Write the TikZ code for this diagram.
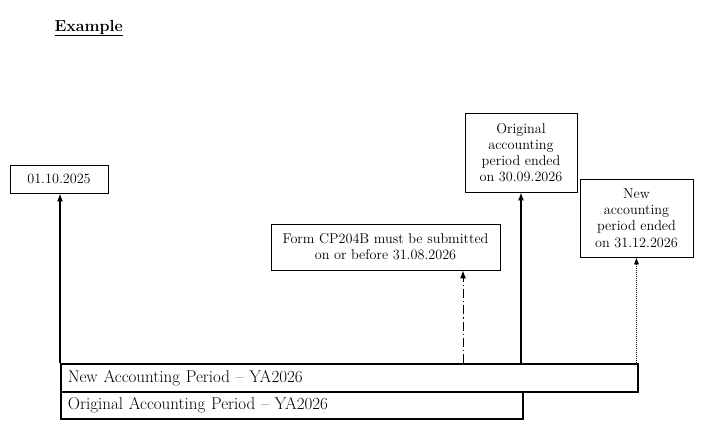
\documentclass[tikz,border=0pt]{standalone}
\usetikzlibrary{arrows.meta,calc}

\tikzset{
  datebox/.style={draw,line width=0.8pt,align=center,inner sep=1pt,
    font=\fontsize{14.2}{16.2}\selectfont},
  periodbar/.style={draw,line width=1.6pt,anchor=north west,align=left,
    inner xsep=7pt,inner ysep=0pt,font=\fontsize{17}{19}\selectfont},
  uparrow/.style={-{Latex[length=8pt,width=6pt]},line width=1.3pt},
}

\begin{document}
\begin{tikzpicture}[x=1pt,y=-1pt]

\useasboundingbox (0,0) rectangle (712,434);

\node[anchor=west,font=\fontsize{16}{18}\selectfont\bfseries] (title) at (51,28) {\underline{Example}};

% date boxes
\node[datebox,minimum width=98pt,minimum height=28pt] (start) at (59,179) {01.10.2025};
\node[datebox,minimum width=229pt,minimum height=46pt] (cp) at (385.5,247)
  {Form CP204B must be submitted\\on or before 31.08.2026};
\node[datebox,minimum width=112pt,minimum height=79pt] (orig) at (521,152.5)
  {Original\\accounting\\period ended\\on 30.09.2026};
\node[datebox,minimum width=113pt,minimum height=78pt] (new) at (636.5,218)
  {New\\accounting\\period ended\\on 31.12.2026};

% period bars
\node[periodbar,text width=563pt,minimum height=28pt] (newbar) at (60,363)
  {New Accounting Period -- YA2026};
\node[periodbar,text width=448pt,minimum height=27pt] (origbar) at (60,391)
  {Original Accounting Period -- YA2026};

% connectors
\coordinate (due) at (463,363);
\draw[uparrow] (newbar.north west) -- (newbar.north west |- start.south);
\draw[uparrow,line width=1pt,dash pattern=on 9pt off 3pt on 1.2pt off 3pt] (due) -- (due |- cp.south);
\draw[uparrow] (orig.south |- newbar.north) -- (orig.south);
\draw[-{Latex[length=7pt,width=5pt]},line width=0.6pt,dash pattern=on 1pt off 1pt] (new.south |- newbar.north) -- (new.south);

\end{tikzpicture}
\end{document}
